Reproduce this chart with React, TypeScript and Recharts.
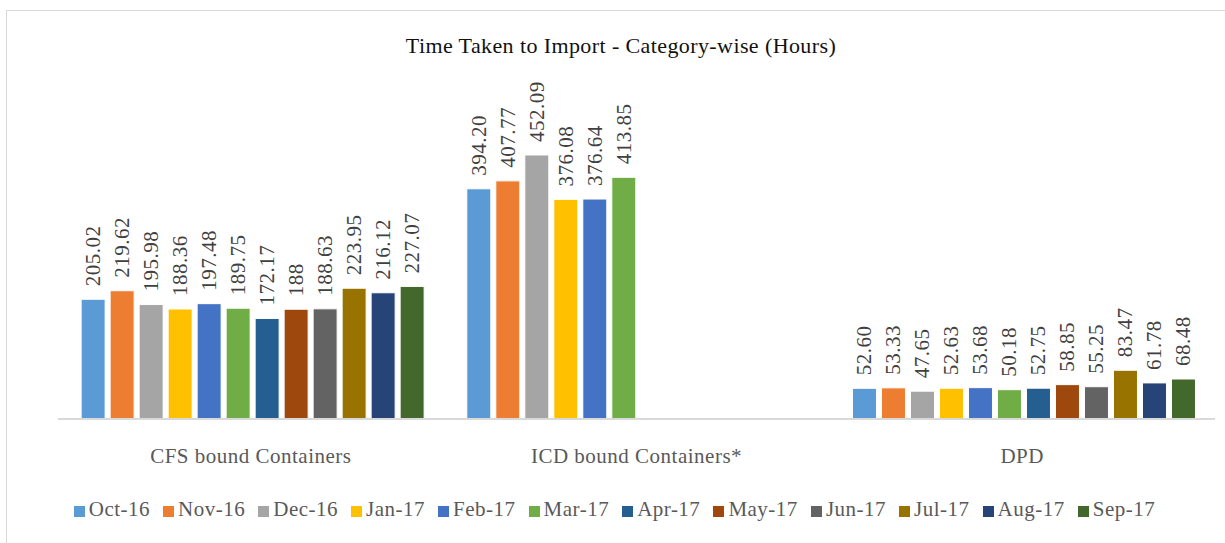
import { BarChart, Bar, XAxis, YAxis, Legend, LabelList } from "recharts"

const categories = ["CFS bound Containers", "ICD bound Containers*", "DPD"]
const months = ["Oct-16", "Nov-16", "Dec-16", "Jan-17", "Feb-17", "Mar-17", "Apr-17", "May-17", "Jun-17", "Jul-17", "Aug-17", "Sep-17"]

const cfsHours = [205.02, 219.62, 195.98, 188.36, 197.48, 189.75, 172.17, 188, 188.63, 223.95, 216.12, 227.07]
const icdHours = [394.2, 407.77, 452.09, 376.08, 376.64, 413.85]
const dpdHours = [52.6, 53.33, 47.65, 52.63, 53.68, 50.18, 52.75, 58.85, 55.25, 83.47, 61.78, 68.48]

const COLORS = ['#5B9BD5', '#ED7D31', '#A5A5A5', '#FFC000', '#4472C4', '#70AD47', '#255E91', '#9E480E', '#636363', '#997300', '#264478', '#43682B']

const FONT = "Liberation Serif"

const seriesByCategory = [cfsHours, icdHours, dpdHours]

const data = categories.map((name, ci) => {
    const row: Record<string, any> = { name }
    months.forEach((m, mi) => {
        row[m] = seriesByCategory[ci][mi]
    })
    return row
})

// CFS row is shown in general format, the others with 2 decimals
const fmt = (name: string, v: number) => name === categories[0] ? String(v) : v.toFixed(2)

const RotatedLabel = (props: any) => {
    const { x, y, width, value, index } = props
    if (value === undefined || value === null) return null
    const cx = x + width / 2 + 7
    const cy = y - 13
    return (
        <text
            x={cx}
            y={cy}
            transform={`rotate(-90 ${cx} ${cy})`}
            fill="#404040"
            fontSize={21}
            style={{ fontFamily: FONT, letterSpacing: 0.5 }}
            textAnchor="start"
        >
            {fmt(data[index].name, value)}
        </text>
    )
}

export default function App() {
    return (
        <div style={{ position: "absolute", left: 0, top: 0, width: 1225, height: 543, overflow: "hidden", background: "#fff", fontFamily: FONT }}>
            <div style={{ position: "absolute", left: 6, top: 10, width: 1240, height: 560, border: "1px solid #D9D9D9" }} />
            <div style={{ position: "absolute", left: 0, top: 33, width: 1242, textAlign: "center", fontSize: 22, letterSpacing: 0.4, color: "#111" }}>
                Time Taken to Import - Category-wise (Hours)
            </div>
            <div style={{ position: "absolute", left: 0, top: 0 }}>
                <BarChart
                    width={1225}
                    height={543}
                    data={data}
                    margin={{ top: 127, right: 10, bottom: 21, left: 58 }}
                    barCategoryGap="6%"
                    barGap={5}
                    style={{ fontFamily: FONT }}
                >
                    <XAxis
                        dataKey="name"
                        height={78}
                        tickLine={false}
                        axisLine={{ stroke: "#D9D9D9", strokeWidth: 2 }}
                        tick={{ fill: "#595959", fontSize: 21, style: { fontFamily: FONT, letterSpacing: 0.5 } }}
                        tickMargin={23}
                    />
                    <YAxis hide domain={[0, 500]} />
                    <Legend
                        verticalAlign="bottom"
                        iconType="square"
                        iconSize={11}
                        itemSorter={(item: any) => months.indexOf(item.value)}
                        wrapperStyle={{ fontFamily: FONT, fontSize: 21, color: "#595959", left: 0, width: 1242 }}
                        formatter={(v: string) => <span style={{ color: "#595959", letterSpacing: 0.5, paddingRight: 3 }}>{v}</span>}
                    />
                    {months.map((m, i) => (
                        <Bar key={m} dataKey={m} fill={COLORS[i]} stroke="#fff" strokeWidth={1} isAnimationActive={false}>
                            <LabelList dataKey={m} content={RotatedLabel} />
                        </Bar>
                    ))}
                </BarChart>
            </div>
        </div>
    )
}
